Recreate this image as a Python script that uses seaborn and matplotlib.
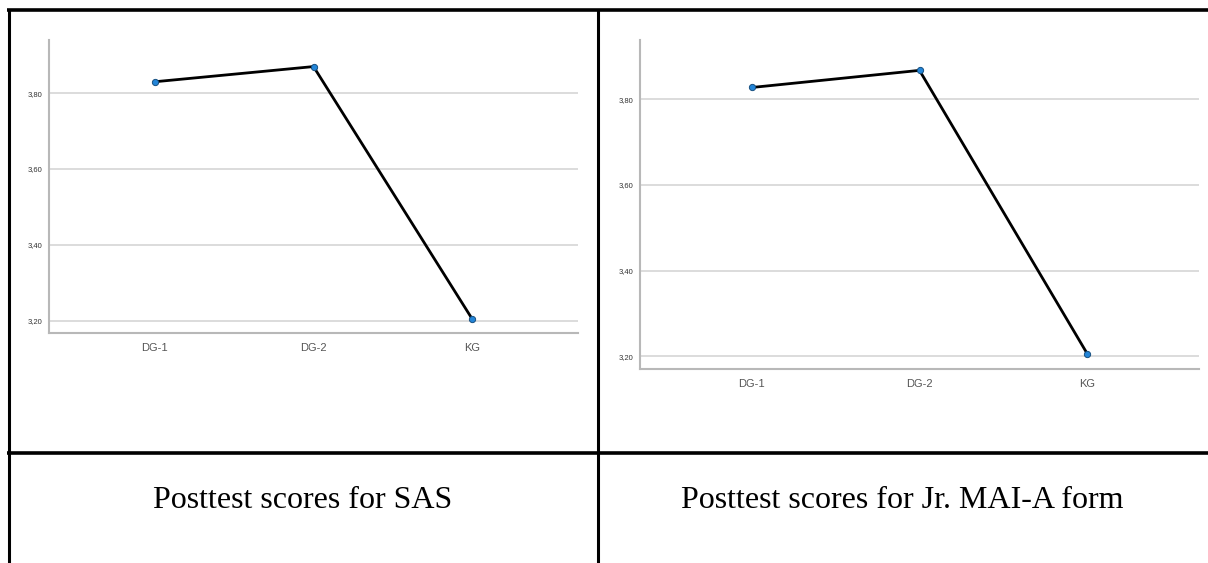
import matplotlib
matplotlib.use("Agg")
import matplotlib.pyplot as plt
from matplotlib.lines import Line2D
from matplotlib.ticker import FuncFormatter
import seaborn as sns
import pandas as pd

# values
groups = ["DG-1", "DG-2", "KG"]
sas_scores = [3.83, 3.87, 3.205]
mai_scores = [3.828, 3.868, 3.206]
y_ticks = [3.20, 3.40, 3.60, 3.80]
captions = ["Posttest scores for SAS", "Posttest scores for Jr. MAI-A form"]

sns.set_style("white")
plt.rcParams['font.family'] = ['Liberation Sans', 'DejaVu Sans']

W, H = 1208, 563
fig = plt.figure(figsize=(W / 100, H / 100), dpi=100)


def px_axes(x0, y0, x1, y1):
    # pixel box (top-left origin) -> figure fraction
    return fig.add_axes([x0 / W, 1 - y1 / H, (x1 - x0) / W, (y1 - y0) / H])


def draw_chart(ax, scores, ylim):
    df = pd.DataFrame({'group': groups, 'score': scores})
    sns.lineplot(data=df, x='group', y='score', ax=ax, color='black', linewidth=2,
                 marker='o', markersize=4.5, markerfacecolor='#2385d8',
                 markeredgecolor='#164f80', markeredgewidth=0.7, zorder=3)
    ax.set_xlim(-0.667, 2.667)
    ax.set_ylim(*ylim)
    ax.set_yticks(y_ticks)
    ax.yaxis.set_major_formatter(FuncFormatter(lambda v, p: f"{v:.2f}".replace('.', ',')))
    ax.grid(axis='y', color='#d6d6d6', linewidth=1.2)
    ax.set_axisbelow(True)
    for s in ['top', 'right']:
        ax.spines[s].set_visible(False)
    for s in ['left', 'bottom']:
        ax.spines[s].set_color('#b8b8b8')
        ax.spines[s].set_linewidth(1.5)
    ax.tick_params(axis='y', length=3, width=1, color='#c8c8c8', labelsize=5.5,
                   labelcolor='#333333', pad=2)
    ax.tick_params(axis='x', length=0, labelsize=8, labelcolor='#555555', pad=7)
    ax.set_xlabel('')
    ax.set_ylabel('')


ax1 = px_axes(49, 40, 578, 333)
draw_chart(ax1, sas_scores, (3.168, 3.94))
ax2 = px_axes(640, 40, 1199, 369)
draw_chart(ax2, mai_scores, (3.17, 3.939))

# table borders around the two figures and captions
def fig_line(x0, y0, x1, y1, lw=2.2):
    fig.add_artist(Line2D([x0 / W, x1 / W], [1 - y0 / H, 1 - y1 / H],
                          color='black', linewidth=lw, transform=fig.transFigure,
                          solid_capstyle='butt'))

fig_line(7, 10, W, 10, lw=2.6)
fig_line(8.5, 9, 8.5, H)
fig_line(598, 10, 598, H)
fig_line(7, 453, W, 453, lw=2.6)

serif = ['Liberation Serif', 'DejaVu Serif']
fig.text(303 / W, 1 - 500 / H, captions[0], ha='center', va='center',
         fontsize=23, color='black', family=serif)
fig.text(902 / W, 1 - 500 / H, captions[1], ha='center', va='center',
         fontsize=23, color='black', family=serif)

fig.savefig('out.png', dpi=100)
